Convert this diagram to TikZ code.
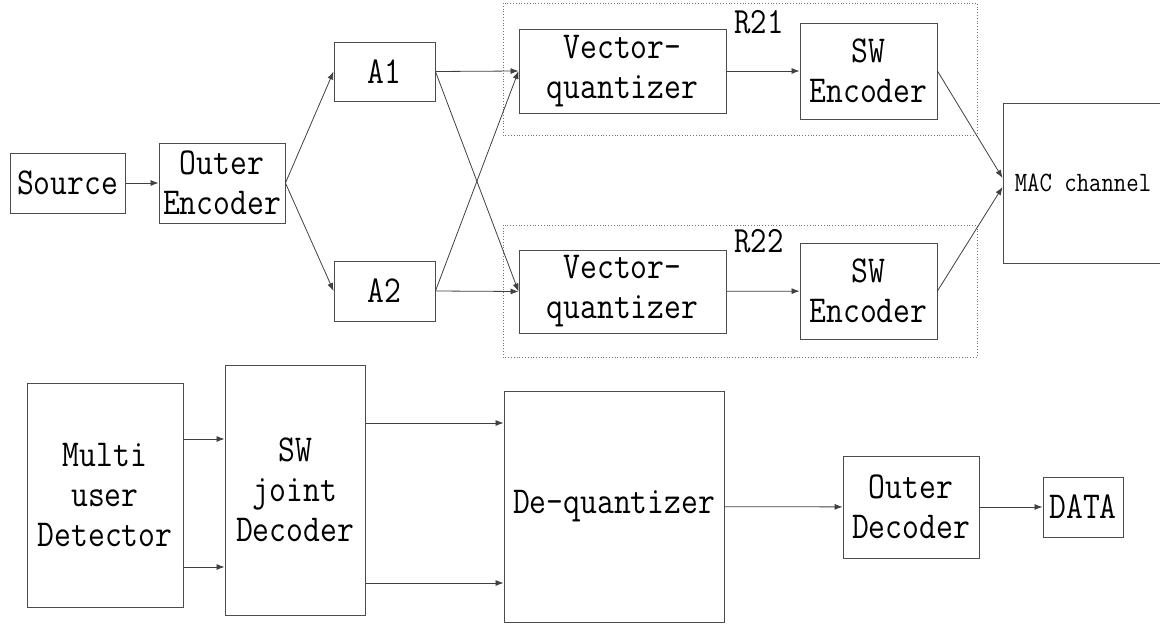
\documentclass[tikz,border=0pt]{standalone}
\usepackage{fontspec}
\setmonofont{Latin Modern Mono}[FakeStretch=0.86]
\usetikzlibrary{arrows.meta}

\begin{document}
\begin{tikzpicture}[x=1pt,y=-1pt,
  blk/.style={draw=black!70, line width=0.9pt, rectangle, inner sep=0pt,
              align=center, font=\ttfamily\fontsize{38}{40}\selectfont},
  grp/.style={draw=black!55, line width=0.8pt, dotted},
  lbl/.style={inner sep=0pt, font=\ttfamily\fontsize{37}{40}\selectfont},
  link/.style={draw=black!75, line width=0.8pt, -{Latex[length=8pt,width=6pt]}}
]
\useasboundingbox (0,0) rectangle (1160,626);

% transmitter chain
\node[blk, minimum width=115pt, minimum height=60pt] (src)  at (67.5,183) {Source};
\node[blk, minimum width=126pt, minimum height=80pt] (oenc) at (222,183) {Outer\\Encoder};
\node[blk, minimum width=101pt, minimum height=59pt] (a1)   at (384.5,71.5) {A1};
\node[blk, minimum width=101pt, minimum height=60pt] (a2)   at (384.5,291) {A2};

% relay groups
\draw[grp] (503,3) rectangle (977,135);
\draw[grp] (503,225) rectangle (977,357);
\node[lbl] (r21) at (759,22) {R21};
\node[lbl] (r22) at (759,241) {R22};

\node[blk, minimum width=207pt, minimum height=84pt] (vq1)  at (622.5,71) {Vector-\\quantizer};
\node[blk, minimum width=137pt, minimum height=96pt] (swe1) at (868.5,71) {SW\\Encoder};
\node[blk, minimum width=207pt, minimum height=83pt] (vq2)  at (622.5,291.5) {Vector-\\quantizer};
\node[blk, minimum width=137pt, minimum height=96pt] (swe2) at (868.5,291) {SW\\Encoder};

\node[blk, minimum width=160pt, minimum height=160pt,
      font=\ttfamily\fontsize{28}{30}\selectfont] (mac) at (1083,183) {MAC channel};

% receiver chain
\node[blk, minimum width=156pt, minimum height=224pt] (mud)  at (105,495) {Multi\\user\\Detector};
\node[blk, minimum width=140pt, minimum height=250pt] (swjd) at (295,490) {SW\\joint\\Decoder};
\node[blk, minimum width=220pt, minimum height=231pt] (deq)  at (614,506.5) {De-quantizer};
\node[blk, minimum width=136pt, minimum height=102pt] (odec) at (911,507) {Outer\\Decoder};
\node[blk, minimum width=80pt,  minimum height=60pt]  (data) at (1083,507) {DATA};

% connectors
\draw[link] (src) -- (oenc);
\draw[link] (oenc.east) -- (a1.west);
\draw[link] (oenc.east) -- (a2.west);
\draw[link] (a1.east) -- (vq1.west);
\draw[link] (a1.east) -- (vq2.west);
\draw[link] (a2.east) -- (vq1.west);
\draw[link] (a2.east) -- (vq2.west);
\draw[link] (vq1) -- (swe1);
\draw[link] (vq2) -- (swe2);
\draw[link] (swe1.east) -- ([yshift=5pt]mac.west);
\draw[link] (swe2.east) -- ([yshift=-4pt]mac.west);

\draw[link] ([yshift=56pt]mud.east) -- ([yshift=56pt]mud.east -| swjd.west);
\draw[link] ([yshift=-72pt]mud.east) -- ([yshift=-72pt]mud.east -| swjd.west);
\draw[link] ([yshift=67pt]swjd.east) -- ([yshift=67pt]swjd.east -| deq.west);
\draw[link] ([yshift=-93pt]swjd.east) -- ([yshift=-93pt]swjd.east -| deq.west);
\draw[link] (deq) -- (odec);
\draw[link] (odec) -- (data);
\end{tikzpicture}
\end{document}
